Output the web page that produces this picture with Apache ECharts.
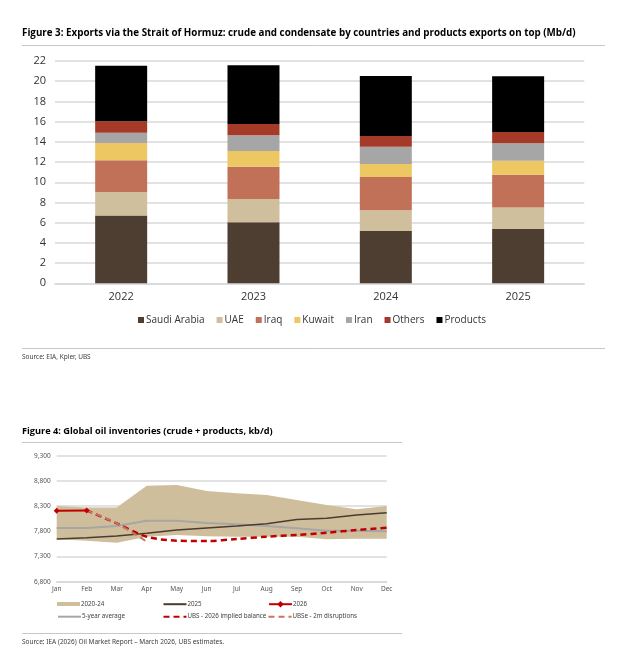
<!DOCTYPE html>
<html>
<head>
<meta charset="utf-8">
<script src="https://cdn.jsdelivr.net/npm/echarts@6/dist/echarts.min.js"></script>
<style>
html,body{margin:0;padding:0;background:#fff;}
#c{width:621px;height:671px;}
</style>
</head>
<body>
<div id="c"></div>
<script>
// ---- Figure 3 data (Mb/d) ----
const years = ['2022', '2023', '2024', '2025'];
const saudiArabia = [6.70, 6.04, 5.18, 5.38];
const uae = [2.34, 2.30, 2.04, 2.11];
const iraq = [3.13, 3.20, 3.30, 3.26];
const kuwait = [1.72, 1.55, 1.29, 1.39];
const iran = [1.02, 1.55, 1.71, 1.71];
const others = [1.12, 1.13, 1.06, 1.12];
const products = [5.51, 5.80, 5.93, 5.51];
const fig3Ticks = [0, 22, 2];

// ---- Figure 4 data (kb/d) ----
const months = ['Jan','Feb','Mar','Apr','May','Jun','Jul','Aug','Sep','Oct','Nov','Dec'];
const range2024Upper = [8300, 8270, 8270, 8705, 8718, 8600, 8554, 8520, 8421, 8322, 8236, 8302];
const range2024Lower = [7640, 7614, 7574, 7693, 7727, 7700, 7693, 7693, 7693, 7641, 7654, 7654];
const inv2025 = [7647, 7673, 7707, 7760, 7826, 7865, 7905, 7950, 8035, 8058, 8124, 8169];
const fiveYearAvg = [7866, 7866, 7905, 8010, 8010, 7965, 7938, 7905, 7859, 7812, 7812, 7799];
const inv2026 = [8210, 8215, null, null, null, null, null, null, null, null, null, null];
const ubsImplied = [null, 8215, 7958, 7693, 7614, 7607, 7647, 7693, 7727, 7772, 7826, 7872];
const ubs2m = [null, 8215, 7958, 7594, null, null, null, null, null, null, null, null];
const fig4Ticks = [6800, 9300, 500];

const chart = echarts.init(document.getElementById('c'), null, {renderer: 'canvas'});

const bandDiff = range2024Upper.map((u, i) => u - range2024Lower[i]);

function barSeries(name, data, color) {
  return {
    name: name, type: 'bar', stack: 'tot', xAxisIndex: 0, yAxisIndex: 0,
    barWidth: 52, data: data, itemStyle: {color: color}
  };
}

const legendLine = (name, left, top, hideSymbol) => ({
  data: [hideSymbol ? {name: name, itemStyle: {opacity: 0}} : name],
  left: left, top: top, orient: 'horizontal',
  itemWidth: 23, itemHeight: 8, padding: 0,
  textStyle: {fontFamily: 'Noto Sans', fontSize: 6.2, color: '#404040', padding: [0,0,0,-4]}
});

const option = {
  animation: false,
  textStyle: {fontFamily: 'Open Sans'},
  grid: [
    {left: 55, top: 61, width: 529.3, height: 222.3},
    {left: 56.7, top: 455.7, width: 330, height: 126}
  ],
  xAxis: [
    {
      gridIndex: 0, type: 'category', data: years,
      axisLine: {show: true, lineStyle: {color: '#d9d9d9', width: 1.5}},
      axisTick: {show: false},
      axisLabel: {fontFamily: 'Open Sans', fontSize: 11, color: '#333', margin: 8}
    },
    {
      gridIndex: 1, type: 'category', data: months, boundaryGap: false,
      axisLine: {show: true, lineStyle: {color: '#d9d9d9', width: 1.5}},
      axisTick: {show: false},
      axisLabel: {fontFamily: 'Noto Sans', fontSize: 6.5, color: '#555', margin: 4}
    }
  ],
  yAxis: [
    {
      gridIndex: 0, type: 'value', min: fig3Ticks[0], max: fig3Ticks[1], interval: fig3Ticks[2],
      axisLine: {show: false}, axisTick: {show: false},
      splitLine: {lineStyle: {color: '#d9d9d9', width: 1.5}},
      axisLabel: {fontFamily: 'Open Sans', fontSize: 11, color: '#333', margin: 9}
    },
    {
      gridIndex: 1, type: 'value', min: fig4Ticks[0], max: fig4Ticks[1], interval: fig4Ticks[2],
      axisLine: {show: false}, axisTick: {show: false},
      splitLine: {lineStyle: {color: '#d9d9d9', width: 1.5}},
      axisLabel: {fontFamily: 'Noto Sans', fontSize: 6.5, color: '#555', margin: 6,
        formatter: v => v.toLocaleString('en-US')}
    }
  ],
  legend: [
    {
      data: ['Saudi Arabia', 'UAE', 'Iraq', 'Kuwait', 'Iran', 'Others', 'Products'],
      left: 138, top: 315, itemWidth: 6, itemHeight: 6, itemGap: 12, padding: 0,
      icon: 'rect',
      textStyle: {fontFamily: 'Open Sans', fontSize: 10, color: '#333', padding: [0,0,0,-3]}
    },
    Object.assign(legendLine('2020-24', 57, 601, false), {icon: 'rect', itemHeight: 4}),
    legendLine('2025', 162.5, 601, true),
    legendLine('2026', 268, 601, false),
    legendLine('5-year average', 57, 613.5, true),
    legendLine('UBS - 2026 implied balance', 162.5, 613.5, true),
    legendLine('UBSe - 2m disruptions', 267.5, 613.5, true)
  ],
  series: [
    barSeries('Saudi Arabia', saudiArabia, '#4e3d31'),
    barSeries('UAE', uae, '#d0bf9d'),
    barSeries('Iraq', iraq, '#c17157'),
    barSeries('Kuwait', kuwait, '#edc762'),
    barSeries('Iran', iran, '#a6a6a6'),
    barSeries('Others', others, '#a53a28'),
    barSeries('Products', products, '#000000'),
    {
      name: 'rangeBase', type: 'line', xAxisIndex: 1, yAxisIndex: 1, stack: 'band',
      data: range2024Lower, symbol: 'none', lineStyle: {width: 0, opacity: 0}, silent: true
    },
    {
      name: '2020-24', type: 'line', xAxisIndex: 1, yAxisIndex: 1, stack: 'band',
      data: bandDiff, symbol: 'none', color: '#cfbe9c',
      lineStyle: {width: 0, opacity: 0}, areaStyle: {color: '#cfbe9c', opacity: 1}
    },
    {
      name: '5-year average', type: 'line', xAxisIndex: 1, yAxisIndex: 1,
      data: fiveYearAvg, symbol: 'none', color: '#a6a6a6', lineStyle: {color: '#a6a6a6', width: 2}
    },
    {
      name: '2025', type: 'line', xAxisIndex: 1, yAxisIndex: 1,
      data: inv2025, symbol: 'none', color: '#4a3c31', lineStyle: {color: '#4a3c31', width: 1.6}
    },
    {
      name: 'UBS - 2026 implied balance', type: 'line', xAxisIndex: 1, yAxisIndex: 1,
      data: ubsImplied, symbol: 'none', smooth: 0.3, color: '#c00000',
      lineStyle: {color: '#c00000', width: 2.5, type: [6, 4]}
    },
    {
      name: 'UBSe - 2m disruptions', type: 'line', xAxisIndex: 1, yAxisIndex: 1,
      data: ubs2m, symbol: 'none', smooth: 0.3, color: '#c9745e',
      lineStyle: {color: '#c9745e', width: 2, type: [6, 4]}
    },
    {
      name: '2026', type: 'line', xAxisIndex: 1, yAxisIndex: 1,
      data: inv2026, symbol: 'diamond', symbolSize: 6, color: '#c00000',
      itemStyle: {color: '#c00000'}, lineStyle: {color: '#c00000', width: 2}
    }
  ],
  graphic: [
    {type: 'text', left: 22, top: 28, style: {text: 'Figure 3: Exports via the Strait of Hormuz: crude and condensate by countries and products exports on top (Mb/d)', fontFamily: 'Open Sans', fontWeight: 'bold', fontSize: 9.8, fill: '#000'}},
    {type: 'line', shape: {x1: 22, y1: 45.5, x2: 605, y2: 45.5}, style: {stroke: '#c8c8c8', lineWidth: 1}},
    {type: 'line', shape: {x1: 22, y1: 348.5, x2: 605, y2: 348.5}, style: {stroke: '#c8c8c8', lineWidth: 1}},
    {type: 'text', left: 22, top: 354, style: {text: 'Source: EIA, Kpler, UBS', fontFamily: 'Noto Sans', fontSize: 6.5, fill: '#404040'}},
    {type: 'text', left: 22, top: 427, style: {text: 'Figure 4: Global oil inventories (crude + products, kb/d)', fontFamily: 'Open Sans', fontWeight: 'bold', fontSize: 9.2, fill: '#000'}},
    {type: 'line', shape: {x1: 22, y1: 442.5, x2: 402, y2: 442.5}, style: {stroke: '#c8c8c8', lineWidth: 1}},
    {type: 'line', shape: {x1: 22, y1: 633.5, x2: 402, y2: 633.5}, style: {stroke: '#c8c8c8', lineWidth: 1}},
    {type: 'text', left: 22, top: 639, style: {text: 'Source: IEA (2026) Oil Market Report \u2013 March 2026, UBS estimates.', fontFamily: 'Noto Sans', fontSize: 6.5, fill: '#404040'}}
  ]
};
chart.setOption(option);
</script>
</body>
</html>
